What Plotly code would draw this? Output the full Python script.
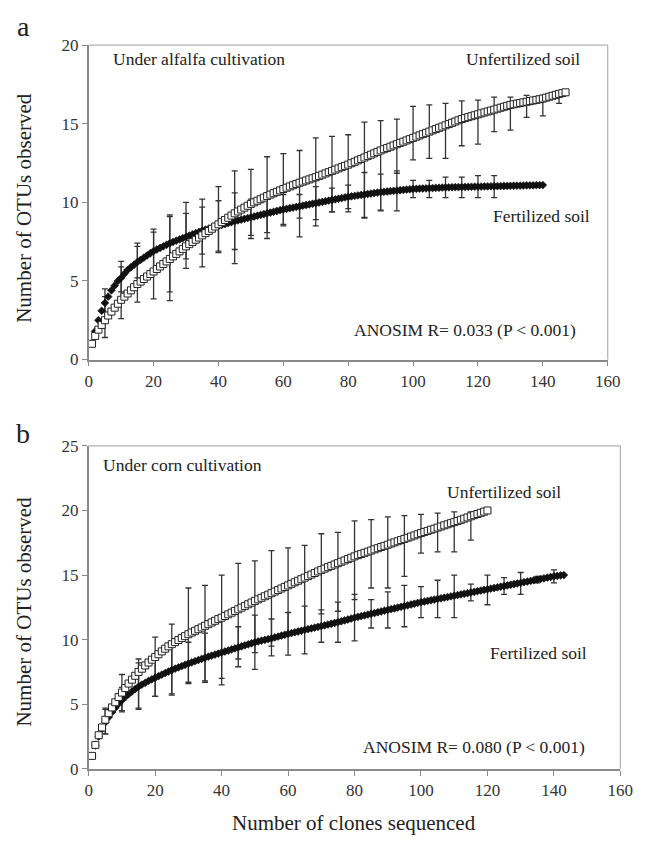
import plotly.graph_objects as go

# ---------------- data ----------------
x_tick_vals = [0, 20, 40, 60, 80, 100, 120, 140, 160]
ya_tick_vals = [0, 5, 10, 15, 20]
yb_tick_vals = [0, 5, 10, 15, 20, 25]

# Panel a (alfalfa) - unfertilized soil, clones 1..147
a_unfert_y = [
    1.00, 1.50, 1.90, 2.20, 2.50, 2.80, 3.05, 3.30, 3.55, 3.80,
    4.00, 4.20, 4.40, 4.60, 4.80, 4.96, 5.12, 5.28, 5.44, 5.60,
    5.76, 5.92, 6.08, 6.24, 6.40, 6.56, 6.72, 6.88, 7.04, 7.20,
    7.34, 7.48, 7.62, 7.76, 7.90, 8.04, 8.18, 8.32, 8.46, 8.60,
    8.74, 8.88, 9.02, 9.16, 9.30, 9.42, 9.54, 9.66, 9.78, 9.90,
    10.00, 10.10, 10.20, 10.30, 10.40, 10.49, 10.58, 10.67, 10.76, 10.85,
    10.93, 11.01, 11.09, 11.17, 11.25, 11.32, 11.39, 11.46, 11.53, 11.60,
    11.68, 11.76, 11.84, 11.92, 12.00, 12.08, 12.16, 12.24, 12.32, 12.40,
    12.49, 12.58, 12.67, 12.76, 12.85, 12.94, 13.03, 13.12, 13.21, 13.30,
    13.38, 13.46, 13.54, 13.62, 13.70, 13.78, 13.86, 13.94, 14.02, 14.10,
    14.18, 14.26, 14.34, 14.42, 14.50, 14.58, 14.66, 14.74, 14.82, 14.90,
    14.98, 15.06, 15.14, 15.22, 15.30, 15.36, 15.42, 15.48, 15.54, 15.60,
    15.66, 15.72, 15.78, 15.84, 15.90, 15.96, 16.02, 16.08, 16.14, 16.20,
    16.24, 16.28, 16.32, 16.36, 16.40, 16.44, 16.48, 16.52, 16.56, 16.60,
    16.66, 16.72, 16.78, 16.84, 16.90, 16.95, 17.00,
]
# Panel a - fertilized soil, clones 1..140
a_fert_y = [
    1.00, 1.80, 2.50, 3.10, 3.60, 4.00, 4.40, 4.70, 5.00, 5.20,
    5.45, 5.70, 5.87, 6.03, 6.20, 6.34, 6.48, 6.62, 6.76, 6.90,
    7.00, 7.10, 7.20, 7.30, 7.40, 7.48, 7.56, 7.64, 7.72, 7.80,
    7.88, 7.96, 8.04, 8.12, 8.20, 8.26, 8.32, 8.38, 8.44, 8.50,
    8.56, 8.62, 8.68, 8.74, 8.80, 8.85, 8.90, 8.95, 9.00, 9.05,
    9.10, 9.15, 9.20, 9.25, 9.30, 9.35, 9.40, 9.45, 9.50, 9.55,
    9.59, 9.63, 9.67, 9.71, 9.75, 9.79, 9.83, 9.87, 9.91, 9.95,
    9.99, 10.03, 10.07, 10.11, 10.15, 10.19, 10.23, 10.27, 10.31, 10.35,
    10.38, 10.41, 10.44, 10.47, 10.50, 10.53, 10.56, 10.59, 10.62, 10.65,
    10.67, 10.69, 10.71, 10.73, 10.75, 10.77, 10.79, 10.81, 10.83, 10.85,
    10.86, 10.87, 10.88, 10.89, 10.90, 10.91, 10.92, 10.93, 10.94, 10.95,
    10.955, 10.96, 10.965, 10.97, 10.975, 10.98, 10.985, 10.99, 10.995, 11.00,
    11.005, 11.01, 11.015, 11.02, 11.025, 11.03, 11.035, 11.04, 11.045, 11.05,
    11.055, 11.06, 11.065, 11.07, 11.075, 11.08, 11.085, 11.09, 11.095, 11.10,
]
# Panel b (corn) - unfertilized soil, clones 1..120
b_unfert_y = [
    1.00, 1.85, 2.60, 3.20, 3.80, 4.30, 4.75, 5.15, 5.55, 5.90,
    6.25, 6.60, 6.90, 7.20, 7.50, 7.75, 8.00, 8.23, 8.45, 8.65,
    8.87, 9.09, 9.30, 9.48, 9.65, 9.81, 9.97, 10.12, 10.27, 10.42,
    10.55, 10.68, 10.81, 10.94, 11.07, 11.20, 11.33, 11.46, 11.59, 11.70,
    11.83, 11.96, 12.09, 12.22, 12.35, 12.48, 12.61, 12.74, 12.87, 13.00,
    13.12, 13.24, 13.36, 13.48, 13.60, 13.72, 13.84, 13.96, 14.08, 14.20,
    14.32, 14.44, 14.56, 14.68, 14.80, 14.92, 15.04, 15.16, 15.28, 15.40,
    15.50, 15.61, 15.71, 15.82, 15.92, 16.03, 16.13, 16.24, 16.34, 16.45,
    16.54, 16.63, 16.72, 16.81, 16.90, 16.99, 17.08, 17.17, 17.26, 17.35,
    17.44, 17.53, 17.62, 17.71, 17.80, 17.89, 17.98, 18.07, 18.16, 18.25,
    18.34, 18.42, 18.51, 18.59, 18.68, 18.76, 18.85, 18.93, 19.02, 19.10,
    19.19, 19.28, 19.37, 19.46, 19.55, 19.64, 19.73, 19.82, 19.91, 20.00,
]
# Panel b - fertilized soil, clones 1..143
b_fert_y = [
    1.00, 1.80, 2.50, 3.10, 3.60, 4.00, 4.38, 4.72, 5.03, 5.30,
    5.55, 5.78, 5.98, 6.18, 6.36, 6.52, 6.66, 6.80, 6.93, 7.05,
    7.17, 7.29, 7.41, 7.53, 7.65, 7.75, 7.85, 7.95, 8.05, 8.15,
    8.24, 8.33, 8.42, 8.51, 8.60, 8.68, 8.76, 8.84, 8.92, 9.00,
    9.08, 9.16, 9.24, 9.32, 9.40, 9.48, 9.56, 9.64, 9.72, 9.80,
    9.86, 9.92, 9.98, 10.04, 10.10, 10.17, 10.24, 10.31, 10.38, 10.45,
    10.51, 10.57, 10.63, 10.69, 10.75, 10.81, 10.87, 10.93, 10.99, 11.05,
    11.11, 11.17, 11.23, 11.29, 11.35, 11.42, 11.49, 11.56, 11.63, 11.70,
    11.76, 11.82, 11.88, 11.94, 12.00, 12.06, 12.12, 12.18, 12.24, 12.30,
    12.36, 12.42, 12.48, 12.54, 12.60, 12.66, 12.72, 12.78, 12.84, 12.90,
    12.95, 13.00, 13.05, 13.10, 13.15, 13.20, 13.25, 13.30, 13.35, 13.40,
    13.45, 13.50, 13.55, 13.60, 13.65, 13.70, 13.75, 13.80, 13.85, 13.90,
    13.95, 14.00, 14.05, 14.10, 14.15, 14.20, 14.25, 14.30, 14.35, 14.40,
    14.45, 14.50, 14.55, 14.60, 14.65, 14.70, 14.75, 14.80, 14.85, 14.90,
    14.94, 14.97, 15.00,
]

# error bars: clone counts and (low, high) ends
a_unfert_err_x = [5, 10, 15, 20, 25, 30, 35, 40, 45, 50, 55, 60, 65, 70, 75,
                  80, 85, 90, 95, 100, 105, 110, 115, 120, 125, 130, 135, 140, 145]
a_unfert_err_lo = [1.4, 2.6, 3.65, 3.86, 3.75, 5.8, 5.9, 6.8, 6.1, 7.7, 7.7, 8.5, 7.8, 8.5, 9.4,
                   9.4, 9.0, 9.5, 11.85, 12.7, 12.8, 12.8, 13.6, 13.7, 14.5, 14.6, 15.4, 15.5, 16.3]
a_unfert_err_hi = [4.5, 6.25, 7.4, 8.3, 9.2, 10.0, 10.2, 11.0, 12.0, 12.1, 12.9, 13.1, 13.3, 14.1, 14.2,
                   14.3, 15.1, 15.2, 15.3, 16.1, 16.2, 16.3, 16.45, 16.5, 16.7, 16.7, 16.8, 16.8, 17.0]

a_fert_err_x = [5, 10, 15, 20, 25, 30, 35, 40, 45, 50, 55, 60, 65, 70, 75,
                80, 85, 90, 95, 100, 105, 110, 115, 120, 125]
a_fert_err_lo = [3.0, 4.3, 5.2, 5.6, 4.3, 6.4, 6.7, 6.9, 7.0, 7.9, 8.07, 8.6, 9.0, 8.9, 9.4,
                 9.6, 9.05, 9.46, 9.46, 10.3, 10.3, 10.3, 10.3, 10.3, 10.3]
a_fert_err_hi = [4.0, 5.9, 7.2, 8.1, 9.1, 9.3, 9.7, 10.1, 10.6, 10.2, 10.5, 10.5, 10.5, 11.0, 10.9,
                 11.1, 11.9, 11.8, 12.0, 11.4, 11.4, 11.6, 11.6, 11.7, 11.7]

b_unfert_err_x = [5, 10, 15, 20, 25, 30, 35, 40, 45, 50, 55, 60, 65, 70, 75,
                  80, 85, 90, 95, 100, 105, 110, 115]
b_unfert_err_lo = [2.7, 4.5, 4.7, 5.6, 5.8, 6.7, 6.8, 7.0, 8.5, 9.0, 9.5, 10.5, 10.8, 12.0, 12.2,
                   13.1, 14.0, 14.0, 14.9, 16.7, 16.8, 16.8, 17.7]
b_unfert_err_hi = [4.7, 7.3, 8.5, 10.2, 11.2, 14.0, 14.2, 15.0, 15.9, 16.1, 16.9, 17.1, 17.3, 18.2, 18.3,
                   19.2, 19.3, 19.5, 19.6, 19.7, 19.8, 19.9, 19.9]

b_fert_err_x = [5, 10, 15, 20, 25, 30, 35, 40, 45, 50, 55, 60, 65, 70, 75,
                80, 85, 90, 95, 100, 105, 110, 115, 120, 125, 130, 135, 140]
b_fert_err_lo = [2.7, 4.4, 4.6, 5.6, 5.7, 6.6, 6.7, 6.5, 7.9, 7.7, 8.75, 8.8, 8.9, 9.8, 9.8,
                 9.9, 10.9, 10.9, 11.0, 11.7, 11.7, 11.7, 13.0, 12.7, 13.5, 13.5, 14.4, 14.4]
b_fert_err_hi = [4.6, 6.3, 8.2, 8.7, 9.6, 9.8, 10.5, 11.5, 11.0, 11.9, 11.6, 12.1, 12.6, 12.3, 12.9,
                 13.5, 13.1, 13.7, 14.2, 14.1, 14.6, 15.0, 14.3, 15.0, 14.8, 15.2, 14.9, 15.4]

# ---------------- figure ----------------
W, H = 647, 843
SERIF = "Liberation Serif, Times New Roman, serif"
TXT = "#222222"


def px_x(p):
    return p / W


def px_y(p):
    return 1 - p / H


fig = go.Figure()


def add_curve(xa, ya, yvals, kind):
    xs = list(range(1, len(yvals) + 1))
    if kind == "fert":
        marker = dict(symbol="diamond", size=6, color="#111111",
                      line=dict(width=0.6, color="#111111"))
    else:
        marker = dict(symbol="square", size=7, color="white",
                      line=dict(width=1, color="#222222"))
    fig.add_trace(go.Scatter(x=xs, y=yvals, mode="markers", marker=marker,
                             xaxis=xa, yaxis=ya, showlegend=False, hoverinfo="skip"))


def add_err(xa, ya, yvals, ex, lo, hi):
    ys = [yvals[x - 1] for x in ex]
    plus = [max(h - y, 0) for h, y in zip(hi, ys)]
    minus = [max(y - l, 0) for l, y in zip(lo, ys)]
    fig.add_trace(go.Scatter(
        x=ex, y=ys, mode="markers", marker=dict(size=0.1, color="rgba(0,0,0,0)"),
        error_y=dict(type="data", symmetric=False, array=plus, arrayminus=minus,
                     color="#333333", thickness=1.3, width=3),
        xaxis=xa, yaxis=ya, showlegend=False, hoverinfo="skip"))


# panel a
add_err("x", "y", a_fert_y, a_fert_err_x, a_fert_err_lo, a_fert_err_hi)
add_err("x", "y", a_unfert_y, a_unfert_err_x, a_unfert_err_lo, a_unfert_err_hi)
add_curve("x", "y", a_fert_y, "fert")
add_curve("x", "y", a_unfert_y, "unfert")
# panel b
add_err("x2", "y2", b_fert_y, b_fert_err_x, b_fert_err_lo, b_fert_err_hi)
add_err("x2", "y2", b_unfert_y, b_unfert_err_x, b_unfert_err_lo, b_unfert_err_hi)
add_curve("x2", "y2", b_fert_y, "fert")
add_curve("x2", "y2", b_unfert_y, "unfert")

axis_common = dict(
    showgrid=False, zeroline=False, showline=True, linecolor="#8a8a8a", linewidth=1.5,
    ticks="outside", ticklen=5, tickcolor="#8a8a8a", tickwidth=1.2,
    tickfont=dict(family=SERIF, size=17, color="#333333"), mirror=False,
)

fig.update_layout(
    width=W, height=H, margin=dict(l=0, r=0, t=0, b=0),
    paper_bgcolor="white", plot_bgcolor="white",
    xaxis=dict(domain=[px_x(87), px_x(620)], range=[0, 160], tickvals=x_tick_vals,
               anchor="y", **axis_common),
    yaxis=dict(domain=[px_y(358.6), px_y(37)], range=[0, 20], tickvals=ya_tick_vals,
               anchor="x", **axis_common),
    xaxis2=dict(domain=[px_x(87), px_x(633)], range=[0, 160], tickvals=x_tick_vals,
                anchor="y2", **axis_common),
    yaxis2=dict(domain=[px_y(777.3), px_y(447)], range=[0, 25], tickvals=yb_tick_vals,
                anchor="x2", **axis_common),
)

# light frame on top and right of each plot area
for (x0, x1, y0, y1) in [(87, 620, 37, 358.6), (87, 633, 447, 777.3)]:
    fig.add_shape(type="line", xref="paper", yref="paper",
                  x0=px_x(x0), x1=px_x(x1), y0=px_y(y0), y1=px_y(y0),
                  line=dict(color="#b0b0b0", width=1.2))
    fig.add_shape(type="line", xref="paper", yref="paper",
                  x0=px_x(x1), x1=px_x(x1), y0=px_y(y0), y1=px_y(y1),
                  line=dict(color="#b0b0b0", width=1.2))

ann = []


def data_text(xref, yref, x, y, text, size=17.5):
    ann.append(dict(xref=xref, yref=yref, x=x, y=y, text=text, showarrow=False,
                    font=dict(family=SERIF, size=size, color=TXT),
                    xanchor="center", yanchor="middle"))


def paper_text(px, py, text, size, angle=0):
    ann.append(dict(xref="paper", yref="paper", x=px_x(px), y=px_y(py), text=text,
                    showarrow=False, textangle=angle,
                    font=dict(family=SERIF, size=size, color=TXT),
                    xanchor="center", yanchor="middle"))


data_text("x", "y", 33.9, 19.1, "Under alfalfa cultivation")
data_text("x", "y", 133.8, 19.1, "Unfertilized soil")
data_text("x", "y", 139.5, 9.1, "Fertilized soil")
data_text("x", "y", 116, 1.9, "ANOSIM R= 0.033 (P &lt; 0.001)")

data_text("x2", "y2", 28.1, 23.5, "Under corn cultivation")
data_text("x2", "y2", 125, 21.4, "Unfertilized soil")
data_text("x2", "y2", 135.4, 9.0, "Fertilized soil")
data_text("x2", "y2", 115.9, 1.7, "ANOSIM R= 0.080 (P &lt; 0.001)")

paper_text(20, 18, "a", 28)
paper_text(20, 434, "b", 28)
paper_text(21, 203, "Number of OTUs observed", 21, angle=-90)
paper_text(21, 616, "Number of OTUs observed", 21, angle=-90)
paper_text(359, 833, "Number of clones sequenced", 21)

fig.update_layout(annotations=ann)
fig.write_html("out.html", config={"displayModeBar": False},
               post_script="document.body.style.margin='0';")
